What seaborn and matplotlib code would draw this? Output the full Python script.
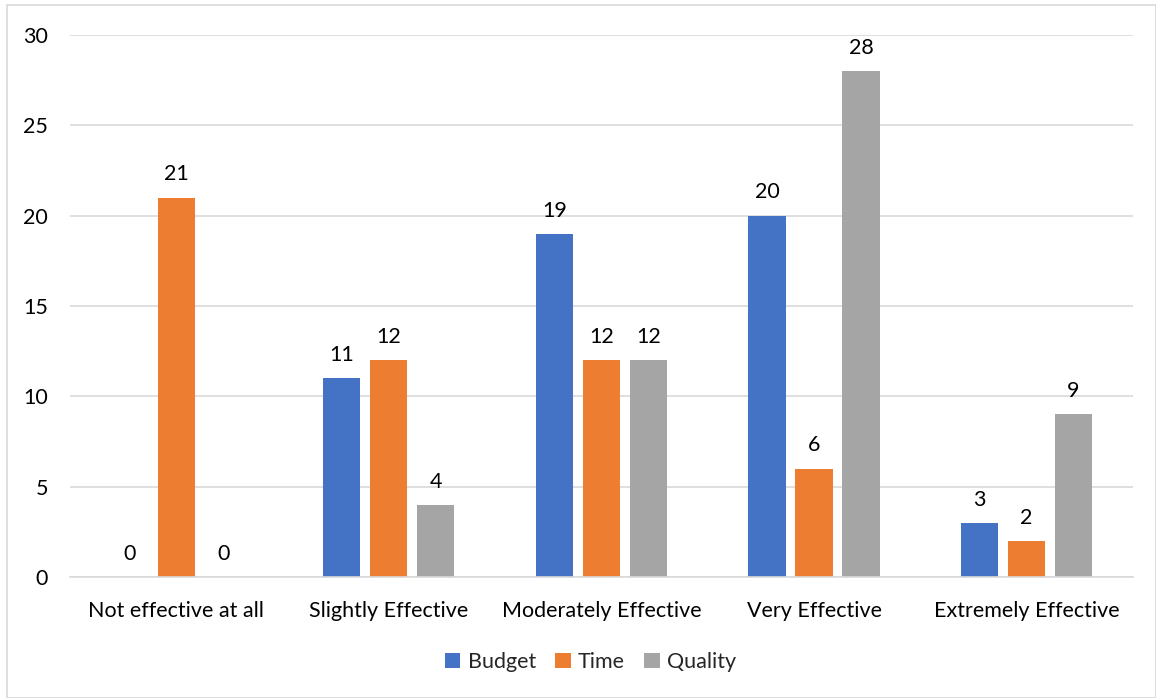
import matplotlib
matplotlib.use("Agg")
import matplotlib.pyplot as plt
import seaborn as sns
import pandas as pd
from matplotlib.patches import Rectangle

categories = ["Not effective at all", "Slightly Effective", "Moderately Effective",
              "Very Effective", "Extremely Effective"]
series = ["Budget", "Time", "Quality"]
budget = [0, 11, 19, 20, 3]
time_vals = [21, 12, 12, 6, 2]
quality = [0, 4, 12, 28, 9]
colors = ["#4472C4", "#ED7D31", "#A5A5A5"]
yticks = [0, 5, 10, 15, 20, 25, 30]

rows = []
for name, vals in zip(series, [budget, time_vals, quality]):
    for c, v in zip(categories, vals):
        rows.append({"Category": c, "Series": name, "Value": v})
df = pd.DataFrame(rows)

sns.set_theme(style="white")
plt.rcParams["font.family"] = ["Lato", "DejaVu Sans"]
FS = 15.5

fig = plt.figure(figsize=(11.56, 6.98), dpi=100)
ax = fig.add_axes([0.0606, 0.1734, 0.9194, 0.7765])

sns.barplot(data=df, x="Category", y="Value", hue="Series", order=categories,
            hue_order=series, palette=colors, width=0.663, gap=0.21,
            saturation=1, ax=ax, legend=True, errorbar=None, linewidth=0)

for cont in ax.containers:
    ax.bar_label(cont, fmt="%g", padding=9.5, fontsize=FS, color="#000000")

ax.set_ylim(0, 30)
ax.set_yticks(yticks)
ax.set_yticklabels([str(t) for t in yticks], fontsize=FS, color="#000000")
ax.set_xlim(-0.5, len(categories) - 0.5)
ax.tick_params(axis="x", labelsize=FS, colors="#000000", pad=17, length=0)
ax.tick_params(axis="y", pad=16, length=0)
ax.set_xlabel("")
ax.set_ylabel("")
ax.yaxis.grid(True, color="#D9D9D9", linewidth=1.2)
ax.set_axisbelow(True)
for s in ["top", "right", "left"]:
    ax.spines[s].set_visible(False)
ax.spines["bottom"].set_color("#D9D9D9")
ax.spines["bottom"].set_linewidth(1.2)

handles, labels = ax.get_legend_handles_labels()
ax.legend_.remove()
fig.legend(handles, labels, loc="center", bbox_to_anchor=(0.511, 0.051), ncol=3,
           frameon=False, fontsize=FS, handlelength=0.7, handleheight=0.7,
           handletextpad=0.35, columnspacing=0.9)

fig.patches.append(Rectangle((0.006, 0.0), 0.994, 0.993, transform=fig.transFigure,
                             fill=False, edgecolor="#D9D9D9", linewidth=1.2))

fig.savefig("out.png", dpi=100)
